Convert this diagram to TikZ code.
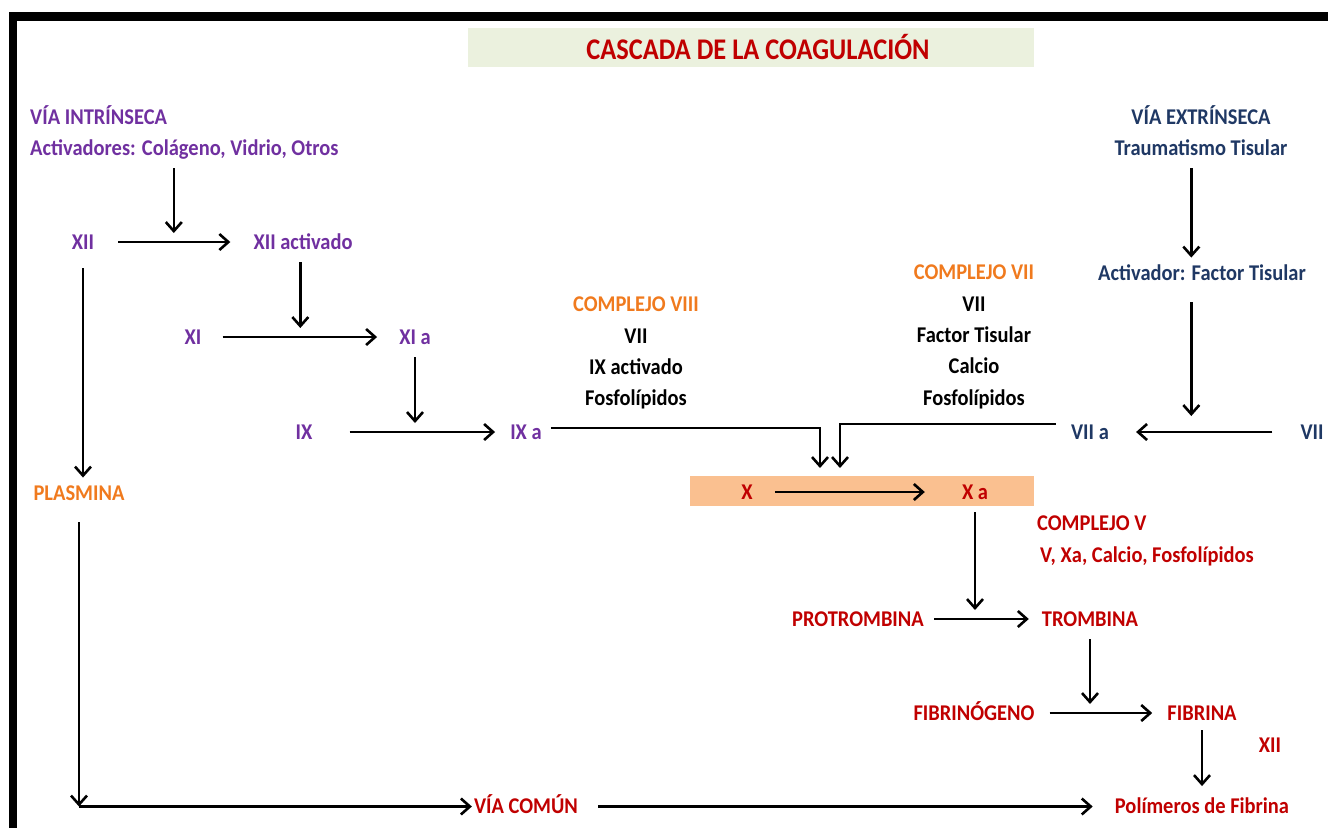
\documentclass[tikz,border=0pt]{standalone}
\usepackage{fontspec}
\setmainfont[FakeStretch=0.91]{Carlito}
\newfontfamily\titlefont[FakeStretch=0.88]{Carlito}
\usetikzlibrary{arrows.meta,positioning,calc}
\definecolor{intr}{HTML}{7030A0}
\definecolor{extr}{HTML}{1F3864}
\definecolor{orng}{HTML}{F07A1E}
\definecolor{rojo}{HTML}{C00000}
\definecolor{sage}{HTML}{EBF1DE}
\definecolor{peach}{HTML}{FAC090}
\tikzset{lbl/.style={font=\bfseries\fontsize{22.5}{31.3}\selectfont,inner sep=0pt,
 text height=14.5pt,text depth=0pt},
 block/.style={font=\bfseries\fontsize{22.5}{31.3}\selectfont,inner sep=0pt,align=center},
 arr/.style={-{Straight Barb[length=9pt,width=16pt]},line width=2.6pt,
 shorten <=22pt,shorten >=22pt},
 cat/.style={arr,shorten <=13pt,shorten >=9pt}}

\begin{document}
\begin{tikzpicture}[x=1pt,y=-1pt]
\useasboundingbox (0,0) rectangle (1328,828);
\fill (9,12) rectangle (1328,20.5);
\fill (9,12) rectangle (17,828);
\node[fill=sage,minimum width=566pt,minimum height=39pt,inner sep=0pt,
 font=\titlefont\bfseries\fontsize{30}{32}\selectfont,text=rojo] (title) at (751,47.5)
 {\hspace*{14pt}CASCADA DE LA COAGULACIÓN};
% via intrinseca
\node[lbl,text=intr,anchor=west] (viaint) at (30,117) {VÍA INTRÍNSECA};
\node[lbl,text=intr,anchor=west] (act) at (30,148) {Activadores: Colágeno, Vidrio, Otros};
\node[lbl,text=intr] (xii) at (83,242) {XII};
\node[lbl,text=intr] (xiia) at (303,242) {XII activado};
\node[lbl,text=intr] (xi) at (193,337) {XI};
\node[lbl,text=intr] (xia) at (415,337) {XI a};
\node[lbl,text=intr] (ix) at (304,432) {IX};
\node[lbl,text=intr] (ixa) at (526,432) {IX a};
\node[lbl,text=orng] (plas) at (79,493) {PLASMINA};
% via extrinseca
\node[lbl,text=extr] (viaext) at (1201,117) {VÍA EXTRÍNSECA};
\node[lbl,text=extr] (trau) at (1201,148) {Traumatismo Tisular};
\node[lbl,text=extr] (actf) at (1202,273) {Activador: Factor Tisular};
\node[lbl,text=extr] (viia) at (1090,432) {VII a};
\node[lbl,text=extr] (vii) at (1312,432) {VII};
% complejos
\node[block,anchor=north] (cviii) at (636,297) {{\color{orng}COMPLEJO VIII}\\VII\\IX activado\\Fosfolípidos};
\node[block,anchor=north] (cvii) at (974,265) {{\color{orng}COMPLEJO VII}\\VII\\Factor Tisular\\Calcio\\Fosfolípidos};
\node[block,align=left,anchor=north west,text=rojo,font=\bfseries\fontsize{22.5}{32}\selectfont] (cv) at (1037,516)
 {COMPLEJO V\\\hspace*{3pt}V, Xa, Calcio, Fosfolípidos};
% via comun
\node[fill=peach,minimum width=344pt,minimum height=30pt,inner sep=0pt] (xbox) at (862,491) {};
\node[lbl,text=rojo] (x) at (747,492) {X};
\node[lbl,text=rojo] (xa) at (975,492) {X a};
\node[lbl,text=rojo] (prot) at (858,619) {PROTROMBINA};
\node[lbl,text=rojo] (trom) at (1090,619) {TROMBINA};
\node[lbl,text=rojo] (fibg) at (974,713) {FIBRINÓGENO};
\node[lbl,text=rojo] (fib) at (1202,713) {FIBRINA};
\node[lbl,text=rojo] (xiib) at (1270,745) {XII};
\node[lbl,text=rojo] (poli) at (1202,806.5) {Polímeros de Fibrina};
\node[lbl,text=rojo] (comun) at (526,806.5) {VÍA COMÚN};
\coordinate (t1) at (820,468);
\coordinate (t2) at (840,468);
\coordinate (c1) at (plas |- comun);

\draw[arr,shorten <=24pt,shorten >=23pt] (xii) -- coordinate[pos=.5] (m1) (xiia);
\draw[cat] (act.south -| m1) -- (m1);
\draw[arr,shorten <=21pt,shorten >=22pt] (xi) -- coordinate[pos=.5] (m2) (xia);
\draw[cat] (xiia.south -| m2) -- (m2);
\draw[arr,shorten <=37pt,shorten >=15pt] (ix) -- coordinate[pos=.5] (m3) (ixa);
\draw[cat] (xia.south) -- (xia.south |- m3);
\draw[arr,shorten <=9pt,shorten >=0pt] ([yshift=4pt]ixa.east) -| (t1);
\draw[arr,shorten <=15pt,shorten >=0pt] ([yshift=8pt]viia.west) -| (t2);
\draw[arr,shorten <=28pt,shorten >=27pt] (vii) -- coordinate[pos=.57] (m4) (viia);
\draw[arr,shorten <=22pt,shorten >=16pt] (actf.south -| m4) -- (m4);
\draw[arr,shorten <=13pt,shorten >=8pt] (trau.south -| m4) -- (actf.north -| m4);
\draw[arr,shorten <=22pt,shorten >=37pt] (x) -- (xa);
\draw[arr,shorten <=10pt,shorten >=13pt] (prot) -- coordinate[pos=.5] (m5) (trom);
\draw[cat] (xa.south) -- (xa.south |- m5);
\draw[arr,shorten <=15pt,shorten >=15pt] (fibg) -- coordinate[pos=.5] (m6) (fib);
\draw[cat] (trom.south) -- (trom.south |- m6);
\draw[arr,shorten <=10pt,shorten >=13pt] (fib) -- (poli);
\draw[arr,shorten <=19pt,shorten >=8pt] (xii) -- (xii |- plas.north);
\draw[arr,shorten <=22pt,shorten >=0pt] (plas) -- (c1);
\draw[arr,shorten <=0pt,shorten >=2pt] (c1) -- (comun);
\draw[arr,shorten <=20pt,shorten >=22pt] (comun) -- (poli);
\end{tikzpicture}
\end{document}
